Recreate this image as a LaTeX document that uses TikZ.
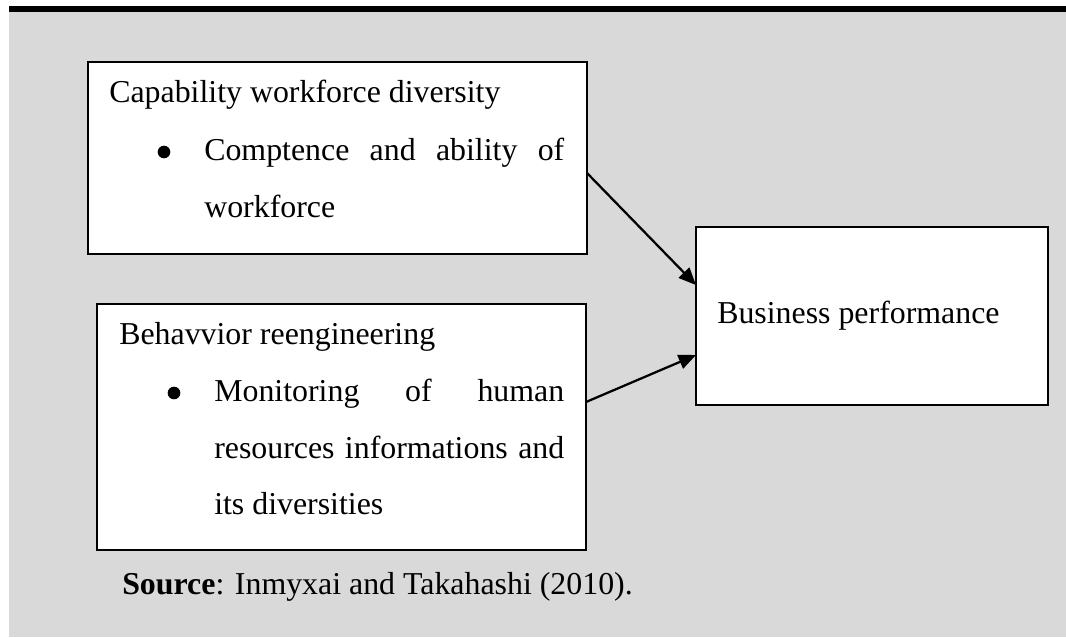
\documentclass[tikz,border=0pt]{standalone}
\usepackage{fontspec}
\setmainfont{Liberation Serif}
\usetikzlibrary{arrows.meta}
\definecolor{panel}{RGB}{217,217,217}
\tikzset{
  box/.style={draw=black, fill=white, line width=2pt, inner sep=0pt, outer sep=0pt},
  txt/.style={anchor=base west, inner sep=0pt, font=\fontsize{23.9}{29}\selectfont},
  dot/.style={circle, fill=black, inner sep=0pt, minimum size=9.5pt},
  link/.style={line width=1.7pt, -{Triangle[length=13pt,width=11pt]}}
}
\begin{document}
\begin{tikzpicture}[x=0.75pt, y=-0.75pt]
  \useasboundingbox (0,0) rectangle (1066,637);
  \fill[white] (0,0) rectangle (1066,637);
  \fill[panel] (9,12) rectangle (1066,637);
  \fill[black] (9,6) rectangle (1066,12);

  % boxes
  \node[box, minimum width=374.25pt, minimum height=144pt] (cap) at (337.5,158) {};
  \node[box, minimum width=366.75pt, minimum height=184.5pt] (beh) at (341.5,427) {};
  \node[box, minimum width=264pt, minimum height=133.5pt] (bus) at (872,316) {};

  % first box text
  \node[txt] (capT) at (109,102) {Capability workforce diversity};
  \node[dot] (capD) at (164,152) {};
  \node[txt] (capL1) at (204,160) {\makebox[270pt][s]{Comptence and ability of}};
  \node[txt] (capL2) at (204,217) {workforce};

  % second box text
  \node[txt] (behT) at (119,344) {Behavvior reengineering};
  \node[dot] (behD) at (174,393) {};
  \node[txt] (behL1) at (214,401) {\makebox[262.5pt][s]{Monitoring of human}};
  \node[txt] (behL2) at (214,458) {\makebox[262.5pt][s]{resources informations and}};
  \node[txt] (behL3) at (214,514) {its diversities};

  % outcome box text
  \node[txt] (busT) at (717,323) {Business performance};

  % source line
  \node[txt] (src) at (122,594) {\textbf{Source}: Inmyxai and Takahashi (2010).};

  % connectors
  \draw[link] ([yshift=-11.25pt]cap.east) -- ([yshift=23.25pt]bus.west);
  \draw[link] ([yshift=18.75pt]beh.east) -- ([yshift=-29.25pt]bus.west);
\end{tikzpicture}
\end{document}
